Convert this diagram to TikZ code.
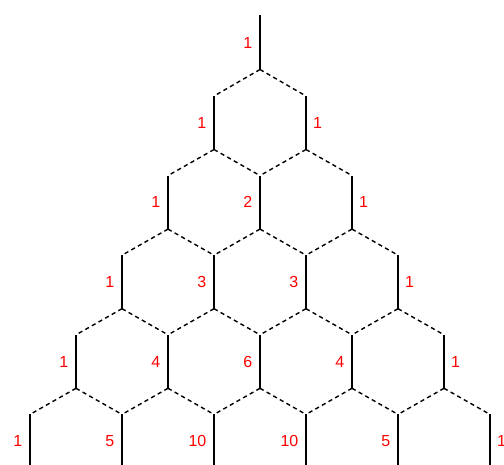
\documentclass[tikz,border=0pt]{standalone}
\usepackage{fontspec}
\setmainfont{Liberation Sans}
\begin{document}
\begin{tikzpicture}[x=1pt,y=-1pt,
  edge/.style={line width=1.4pt},
  link/.style={line width=1.4pt, dash pattern=on 4.2pt off 3.4pt},
  num/.style={text=red, font=\fontsize{16}{16}\selectfont, inner sep=0pt}]
\useasboundingbox (0,0) rectangle (504,464);
% vertices
\coordinate (t0-0) at (260,15);
\coordinate (b0-0) at (260,69.5);
\coordinate (m0-0) at (260,42.5);
\foreach \r in {1,...,5}{
  \foreach \i in {0,...,\r}{
    \pgfmathsetmacro\xx{260+46*(2*\i-\r)}
    \pgfmathsetmacro\yt{96+79.6*(\r-1)}
    \coordinate (t\r-\i) at (\xx,\yt);
    \coordinate (b\r-\i) at (\xx,\yt+53.5);
    \coordinate (m\r-\i) at (\xx,\yt+26.8);
  }
}
% solid vertical edges
\foreach \r in {0,...,5}{
  \foreach \i in {0,...,\r}{
    \draw[edge] (t\r-\i) -- (b\r-\i);
  }
}
% dashed links
\foreach \r in {0,...,4}{
  \foreach \i in {0,...,\r}{
    \pgfmathtruncatemacro\n{\r+1}
    \pgfmathtruncatemacro\j{\i+1}
    \draw[link] (b\r-\i) -- (t\n-\i);
    \draw[link] (b\r-\i) -- (t\n-\j);
  }
}
% labels on the left
\foreach \r/\i/\v in {0/0/1, 1/0/1, 2/0/1, 2/1/2, 3/0/1, 3/1/3, 3/2/3,
  4/0/1, 4/1/4, 4/2/6, 4/3/4, 5/0/1, 5/1/5, 5/2/10, 5/3/10, 5/4/5}{
  \node[num, anchor=east, xshift=-7.5pt] (L\r-\i) at (m\r-\i) {\v};
}
% labels on the right
\foreach \r in {1,...,5}{
  \node[num, anchor=west, xshift=7pt] (R\r) at (m\r-\r) {1};
}
\end{tikzpicture}
\end{document}
